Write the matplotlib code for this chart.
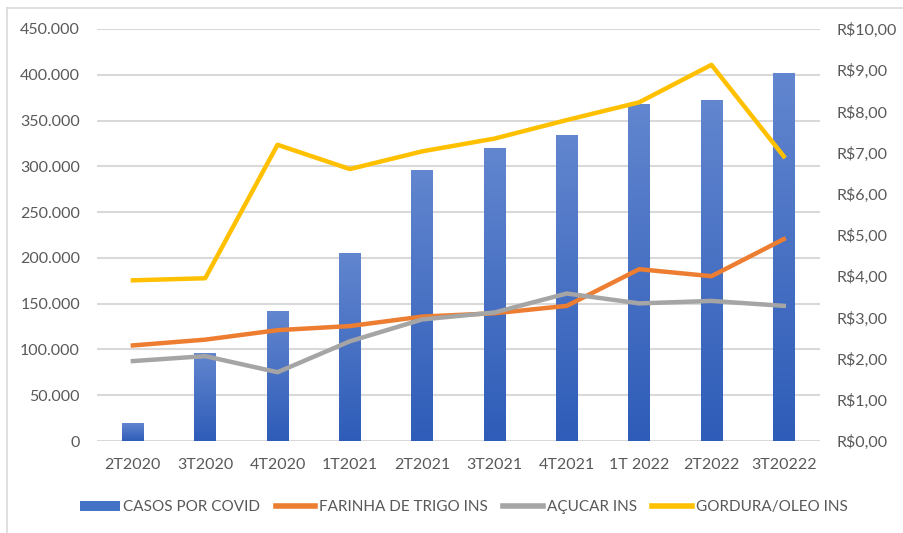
#!/usr/bin/env python3
import matplotlib.pyplot as plt
import numpy as np
from matplotlib.colors import LinearSegmentedColormap
from matplotlib.patches import Patch
from matplotlib.lines import Line2D
from matplotlib.ticker import FuncFormatter

quarters = ["2T2020", "3T2020", "4T2020", "1T2021", "2T2021",
            "3T2021", "4T2021", "1T 2022", "2T2022", "3T20222"]
casos = [19400, 95700, 141800, 204300, 295900,
         319000, 334200, 367700, 372200, 401600]
farinha = [2.32, 2.46, 2.69, 2.79, 3.02, 3.10, 3.28, 4.17, 4.00, 4.90]
acucar = [1.94, 2.06, 1.67, 2.42, 2.95, 3.12, 3.58, 3.34, 3.40, 3.28]
gordura = [3.90, 3.95, 7.19, 6.60, 7.03, 7.34, 7.79, 8.22, 9.13, 6.91]

color_orange = "#ed7d31"
color_grey   = "#a5a5a5"
color_yellow = "#ffc000"
text_color   = "#595959"
grid_color   = "#d9d9d9"

plt.rcParams["font.family"] = ["Lato", "DejaVu Sans"]
fsize = 11.5


def thousands(v, pos):
    return f"{int(v):,}".replace(",", ".")


def reais(v, pos):
    return f"R${v:.2f}".replace(".", ",")


def main():
    fig = plt.figure(figsize=(9.04, 5.33), dpi=100)
    ax = fig.add_axes([0.107, 0.1726, 0.800, 0.773])
    ax2 = ax.twinx()

    x = np.arange(len(quarters))
    w = 0.30
    bar_cmap = LinearSegmentedColormap.from_list("bar", ["#2e5cb8", "#6286cf"])
    grad = np.linspace(0, 1, 256).reshape(-1, 1)
    for xi, h in zip(x, casos):
        ax.imshow(grad, cmap=bar_cmap, origin="lower", aspect="auto",
                  extent=[xi - w / 2, xi + w / 2, 0, h], zorder=2)

    ax.set_xlim(-0.5, len(quarters) - 0.5)
    ax.set_ylim(0, 450000)
    ax.set_yticks(np.arange(0, 450001, 50000))
    ax.yaxis.set_major_formatter(FuncFormatter(thousands))
    ax.set_xticks(x)
    ax.set_xticklabels(quarters)
    ax.grid(axis="y", color=grid_color, linewidth=1.5, zorder=0)
    ax.set_axisbelow(True)

    ax2.set_ylim(0, 10)
    ax2.set_yticks(np.arange(0, 11, 1))
    ax2.yaxis.set_major_formatter(FuncFormatter(reais))

    ax2.plot(x, farinha, color=color_orange, linewidth=3.2)
    ax2.plot(x, acucar, color=color_grey, linewidth=3.2)
    ax2.plot(x, gordura, color=color_yellow, linewidth=3.2)

    for a in (ax, ax2):
        for s in a.spines.values():
            s.set_visible(False)
        a.tick_params(length=0, labelsize=fsize, colors=text_color)
    ax.tick_params(axis="y", pad=12)
    ax.tick_params(axis="x", pad=12)
    ax2.tick_params(axis="y", pad=12)

    handles = [Patch(facecolor="#4472c4"),
               Line2D([], [], color=color_orange, linewidth=4),
               Line2D([], [], color=color_grey, linewidth=4),
               Line2D([], [], color=color_yellow, linewidth=4)]
    labels = ["CASOS POR COVID", "FARINHA DE TRIGO INS", "AÇUCAR INS", "GORDURA/OLEO INS"]
    fig.legend(handles, labels, loc="center", bbox_to_anchor=(0.513, 0.048), ncol=4,
               frameon=False, fontsize=11, labelcolor=text_color,
               handlelength=2.6, handletextpad=0.25, columnspacing=1.0)

    # chart border visible on left/top
    fig.add_artist(Line2D([0.008, 0.008], [0, 0.985], color=grid_color, linewidth=1.2))
    fig.add_artist(Line2D([0.008, 1.0], [0.985, 0.985], color=grid_color, linewidth=1.2))

    fig.savefig("out.png", dpi=100)


if __name__ == "__main__":
    main()
